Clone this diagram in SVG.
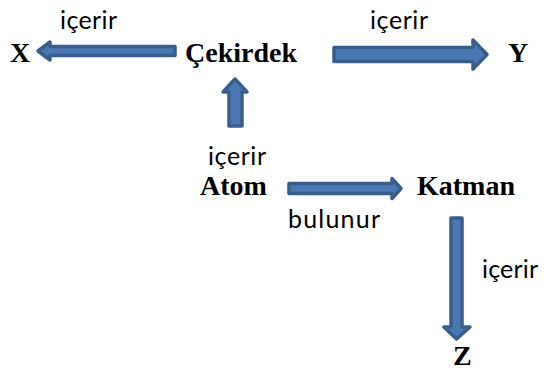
<svg xmlns="http://www.w3.org/2000/svg" width="547" height="372" viewBox="0 0 547 372">
<style>
.n{font-family:"Liberation Serif","Times New Roman",serif;font-weight:bold;font-size:28px;fill:#000}
.l{font-family:Lato,"Open Sans",sans-serif;font-size:25px;fill:#000}
.a{fill:#4A78B2;stroke:#3A5E8C;stroke-width:3.5;stroke-linejoin:round}
</style>
<rect width="547" height="372" fill="#fff"/>
<g id="connectors">
<polygon class="a" points="38,51 50,42 50,46.5 175,46.5 175,55.5 50,55.5 50,60"/>
<polygon class="a" points="334,47.5 473,47.5 473,40 487,54.5 473,69 473,61.5 334,61.5"/>
<polygon class="a" points="235,79 247,92 242,92 242,126 229,126 229,92 223,92"/>
<polygon class="a" points="289,183.5 392,183.5 392,178.5 401,188.5 392,198.5 392,193.5 289,193.5"/>
<polygon class="a" points="451,218 462,218 462,327 470,327 456.5,339 444,327 451,327"/>
<text class="l" x="60" y="29" textLength="57">içerir</text>
<text class="l" x="370" y="29" textLength="58">içerir</text>
<text class="l" x="208" y="165" textLength="58">içerir</text>
<text class="l" x="288" y="228" textLength="92">bulunur</text>
<text class="l" x="482" y="278" textLength="56">içerir</text>
</g>
<g id="X"><text class="n" x="10" y="62">X</text></g>
<g id="Cekirdek"><text class="n" x="185" y="62">Çekirdek</text></g>
<g id="Y"><text class="n" x="508" y="62">Y</text></g>
<g id="Atom"><text class="n" x="200" y="195">Atom</text></g>
<g id="Katman"><text class="n" x="417" y="195">Katman</text></g>
<g id="Z"><text class="n" x="453" y="365">Z</text></g>
</svg>
